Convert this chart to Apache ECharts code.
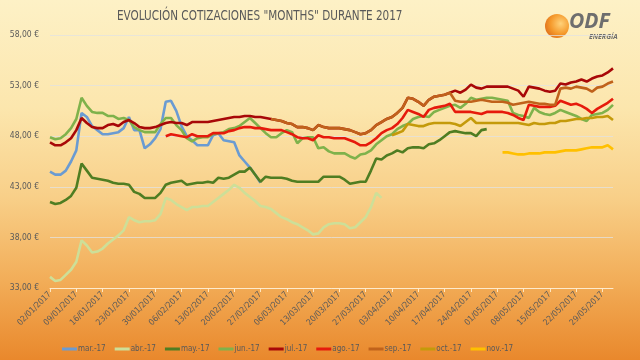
<!DOCTYPE html>
<html><head><meta charset="utf-8">
<script src="https://cdn.jsdelivr.net/npm/echarts@6/dist/echarts.min.js"></script>
<style>
html,body{margin:0;padding:0;}
#c{width:640px;height:360px;background:linear-gradient(to bottom,#fdf1c6 0%,#fce6ad 30%,#f8cf88 55%,#f2ad58 78%,#e9882c 100%);}
</style>
</head><body><div id="c"></div>
<script>
const dates = [
"02/01/2017","03/01/2017","04/01/2017","05/01/2017","06/01/2017",
"09/01/2017","10/01/2017","11/01/2017","12/01/2017","13/01/2017",
"16/01/2017","17/01/2017","18/01/2017","19/01/2017","20/01/2017",
"23/01/2017","24/01/2017","25/01/2017","26/01/2017","27/01/2017",
"30/01/2017","31/01/2017","01/02/2017","02/02/2017","03/02/2017",
"06/02/2017","07/02/2017","08/02/2017","09/02/2017","10/02/2017",
"13/02/2017","14/02/2017","15/02/2017","16/02/2017","17/02/2017",
"20/02/2017","21/02/2017","22/02/2017","23/02/2017","24/02/2017",
"27/02/2017","28/02/2017","01/03/2017","02/03/2017","03/03/2017",
"06/03/2017","07/03/2017","08/03/2017","09/03/2017","10/03/2017",
"13/03/2017","14/03/2017","15/03/2017","16/03/2017","17/03/2017",
"20/03/2017","21/03/2017","22/03/2017","23/03/2017","24/03/2017",
"27/03/2017","28/03/2017","29/03/2017","30/03/2017","31/03/2017",
"03/04/2017","04/04/2017","05/04/2017","06/04/2017","07/04/2017",
"10/04/2017","11/04/2017","12/04/2017","13/04/2017","14/04/2017",
"17/04/2017","18/04/2017","19/04/2017","20/04/2017","21/04/2017",
"24/04/2017","25/04/2017","26/04/2017","27/04/2017","28/04/2017",
"01/05/2017","02/05/2017","03/05/2017","04/05/2017","05/05/2017",
"08/05/2017","09/05/2017","10/05/2017","11/05/2017","12/05/2017",
"15/05/2017","16/05/2017","17/05/2017","18/05/2017","19/05/2017",
"22/05/2017","23/05/2017","24/05/2017","25/05/2017","26/05/2017",
"29/05/2017","30/05/2017","31/05/2017"];

const seriesNames = ["mar.-17","abr.-17","may.-17","jun.-17","jul.-17","ago.-17","sep.-17","oct.-17","nov.-17"];

// each series: first index (in dates) + values
const marStart = 0;
const mar = [44.5,44.2,44.2,44.6,45.5,46.6,50.3,49.9,49.0,48.6,
48.2,48.2,48.3,48.4,48.8,49.9,48.6,48.6,46.8,47.2,
47.8,48.7,51.4,51.5,50.5,49.0,48.0,47.6,47.1,47.1,
47.1,48.1,48.3,47.6,47.5,47.4,46.1,45.5,44.9,44.2,43.4];

const abrStart = 0;
const abr = [34.1,33.7,33.8,34.3,34.8,35.6,37.7,37.2,36.5,36.6,
36.9,37.4,37.8,38.2,38.7,40.0,39.7,39.5,39.6,39.6,
39.7,40.3,41.9,41.7,41.3,41.0,40.7,41.0,41.0,41.1,
41.1,41.5,41.9,42.3,42.7,43.2,42.9,42.4,42.0,41.6,
41.1,41.0,40.8,40.4,40.0,39.8,39.5,39.3,39.0,38.7,
38.3,38.4,39.0,39.3,39.4,39.4,39.3,38.9,39.0,39.5,
40.0,41.0,42.4,41.9];

const mayStart = 0;
const may = [41.5,41.3,41.4,41.7,42.1,42.9,45.3,44.6,43.9,43.8,
43.7,43.6,43.4,43.3,43.3,43.2,42.5,42.3,41.9,41.9,
41.9,42.4,43.2,43.4,43.5,43.6,43.2,43.3,43.4,43.4,
43.5,43.4,43.9,43.8,43.9,44.2,44.5,44.5,44.9,44.2,
43.5,44.0,43.9,43.9,43.9,43.8,43.6,43.5,43.5,43.5,
43.5,43.5,44.0,44.0,44.0,44.0,43.7,43.3,43.4,43.5,
43.5,44.6,45.8,45.7,46.1,46.3,46.6,46.4,46.8,46.9,
46.9,46.8,47.2,47.3,47.6,48.0,48.4,48.5,48.4,48.3,
48.3,48.0,48.6,48.7];

const junStart = 0;
const jun = [47.9,47.7,47.8,48.2,48.8,49.7,51.8,51.0,50.4,50.3,
50.3,50.0,50.0,49.7,49.8,49.6,48.9,48.6,48.4,48.4,
48.4,49.2,49.8,49.8,49.1,48.6,47.8,47.5,47.8,47.9,
47.9,48.2,48.3,48.4,48.7,48.8,49.0,49.4,49.8,49.3,
48.8,48.3,47.9,47.9,48.3,48.6,48.4,47.3,47.8,47.9,
47.9,46.8,46.9,46.5,46.3,46.3,46.3,46.0,45.8,46.2,
46.3,46.6,47.2,47.6,48.0,48.2,48.7,49.0,49.2,49.7,
49.9,50.0,49.9,50.4,50.6,50.8,51.0,51.1,50.8,51.2,
51.8,51.6,51.7,51.8,51.8,51.7,51.6,51.5,50.3,50.1,
50.0,49.8,50.8,50.4,50.2,50.1,50.3,50.6,50.4,50.2,
50.0,49.7,49.5,50.1,50.2,50.3,50.6,51.1];

const julStart = 0;
const jul = [47.4,47.1,47.1,47.4,47.8,48.6,49.8,49.3,48.9,48.8,
48.8,49.1,49.2,49.0,49.4,49.6,49.3,48.9,48.8,48.8,
48.9,49.1,49.3,49.4,49.3,49.3,49.1,49.4,49.4,49.4,
49.4,49.5,49.6,49.7,49.8,49.9,49.9,50.0,50.0,49.9,
49.9,49.8,49.7,49.6,49.5,49.3,49.2,48.9,48.9,48.8,
48.6,49.1,48.9,48.8,48.8,48.8,48.7,48.6,48.4,48.2,
48.3,48.6,49.1,49.4,49.7,49.9,50.3,50.8,51.8,51.7,
51.4,51.0,51.6,51.9,52.0,52.1,52.3,52.5,52.3,52.6,
53.1,52.8,52.7,52.9,52.9,52.9,52.9,52.9,52.7,52.5,
51.9,52.9,52.8,52.7,52.5,52.4,52.5,53.2,53.1,53.3,
53.4,53.6,53.4,53.7,53.9,54.0,54.3,54.7];

const agoStart = 22;
const ago = [48.0,48.2,48.1,48.0,47.9,48.2,48.0,48.0,
48.0,48.3,48.3,48.3,48.5,48.6,48.8,48.9,48.9,48.8,
48.8,48.7,48.6,48.6,48.6,48.4,48.2,47.9,47.8,47.8,
47.6,48.1,47.9,47.9,47.8,47.8,47.8,47.6,47.4,47.1,
47.1,47.4,47.8,48.3,48.6,48.8,49.2,49.8,50.6,50.4,
50.2,49.9,50.6,50.8,50.9,51.0,51.2,50.4,50.4,50.4,
50.4,50.3,50.2,50.4,50.4,50.4,50.4,50.3,50.1,49.8,
49.6,51.1,51.0,50.9,50.9,50.9,51.0,51.5,51.3,51.1,
51.2,51.0,50.7,50.3,50.7,51.0,51.3,51.7];

const sepStart = 42;
const sep = [49.7,49.6,49.5,49.3,49.2,48.9,48.9,48.8,
48.6,49.1,48.9,48.8,48.8,48.8,48.7,48.6,48.4,48.2,
48.3,48.6,49.1,49.4,49.7,49.9,50.3,50.8,51.8,51.7,
51.4,51.0,51.6,51.9,52.0,52.1,52.3,51.5,51.4,51.4,
51.4,51.5,51.6,51.5,51.4,51.4,51.4,51.3,51.1,51.2,
51.3,51.4,51.3,51.2,51.2,51.1,51.1,52.7,52.8,52.7,
52.9,52.8,52.7,52.4,52.8,52.9,53.2,53.4];

const octStart = 65;
const oct = [48.1,48.3,48.5,49.2,49.1,49.0,49.0,49.2,49.3,49.3,
49.3,49.3,49.2,49.0,49.4,49.8,49.3,49.3,49.3,49.3,
49.3,49.3,49.3,49.3,49.3,49.2,49.1,49.3,49.2,49.2,
49.3,49.3,49.5,49.5,49.6,49.7,49.7,49.8,49.8,49.9,
49.9,50.0,49.6];

const novStart = 86;
const nov = [46.4,46.4,46.3,46.2,46.2,46.3,46.3,46.3,46.4,
46.4,46.4,46.5,46.6,46.6,46.6,46.7,46.8,46.9,46.9,46.9,47.1,46.7];

const yTicks = [33,38,43,48,53,58];

const colors = ["#6a9bd2","#cddf98","#4f7d22","#7fb24b","#a80808","#e61a0c","#c0621b","#c49a0a","#ffc000"];

function pad(start, vals){
  const out = new Array(dates.length).fill(null);
  vals.forEach((v,i)=>{ out[start+i] = v; });
  return out;
}
const all = [[marStart,mar],[abrStart,abr],[mayStart,may],[junStart,jun],[julStart,jul],[agoStart,ago],[sepStart,sep],[octStart,oct],[novStart,nov]];

const chart = echarts.init(document.getElementById('c'), null, {renderer:'canvas'});
const font = "'DejaVu Sans Condensed', 'Open Sans', sans-serif";
chart.setOption({
  backgroundColor: 'transparent',
  animation: false,
  color: colors,
  textStyle: {fontFamily: font},
  grid: {left: 50, right: 27, top: 35, bottom: 72, containLabel: false},
  graphic: [
    {type:'text', x: 117, y: 9, scaleX: 0.86, style:{text:'EVOLUCIÓN COTIZACIONES "MONTHS" DURANTE 2017', fill:'#595959', font:"13.5px 'DejaVu Sans Condensed', sans-serif"}},
    {type:'circle', shape:{cx:557, cy:26, r:12}, style:{fill:{type:'radial', x:0.65, y:0.4, r:0.7, colorStops:[{offset:0,color:'#ffd27a'},{offset:0.6,color:'#f59a2c'},{offset:1,color:'#e0701a'}]}}},
    {type:'text', left: 569, top: 12, style:{text:'ODF', fill:'#6e6e6e', font:"italic bold 21px 'Open Sans', sans-serif"}},
    {type:'text', left: 589, top: 33, style:{text:'ENERGÍA', fill:'#6e6e6e', font:"italic bold 7px 'Open Sans', sans-serif"}}
  ],
  legend: {
    data: seriesNames, left: 57, top: 340, icon: 'rect', itemWidth: 15, itemHeight: 3, itemGap: 9,
    textStyle: {fontSize: 8, color: '#595959', padding:[0,0,0,-4], fontFamily: font}
  },
  xAxis: {
    type: 'category', data: dates, boundaryGap: false,
    axisLine: {show:true, lineStyle:{color:'rgba(255,236,205,0.9)', width:1}},
    axisTick: {show:true, interval: 4, length: 4, lineStyle:{color:'rgba(255,236,205,0.9)'}},
    axisLabel: {interval: 4, rotate: 45, fontSize: 8.5, color:'#5a5a5a', margin: 5, fontFamily: font}
  },
  yAxis: {
    type: 'value', min: 33, max: 58, interval: 5,
    axisLine: {show:false}, axisTick:{show:false},
    axisLabel: {fontSize: 8.5, color:'#5a5a5a', margin: 11, fontFamily: font,
      formatter: v => yTicks.includes(v) ? v.toFixed(2).replace('.',',') + ' €' : ''},
    splitLine: {lineStyle:{color:'rgba(225,225,225,0.75)', width:1}}
  },
  series: all.map((s,k)=>({
    name: seriesNames[k], type:'line', data: pad(s[0], s[1]), showSymbol:false, symbol:'none',
    lineStyle:{width:2.6, color: colors[k]}, itemStyle:{color: colors[k]}, connectNulls:false
  }))
});
</script></body></html>
